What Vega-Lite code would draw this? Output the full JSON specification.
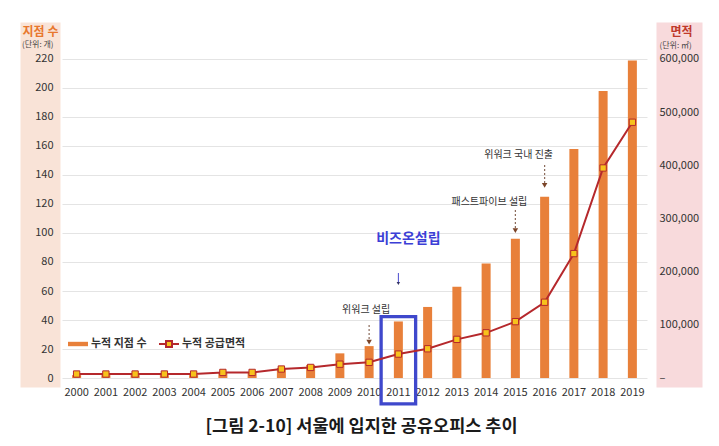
{
  "$schema": "https://vega.github.io/schema/vega-lite/v6.json",
  "width": 585,
  "height": 365,
  "autosize": "none",
  "padding": {"left": 62, "top": 22, "right": 72, "bottom": 59},
  "background": "white",
  "title": {
    "text": "[그림 2-10] 서울에 입지한 공유오피스 추이",
    "orient": "bottom", "anchor": "middle",
    "fontSize": 17.5, "fontWeight": "bold", "color": "#1a1a1a",
    "offset": 12, "dx": 7
  },
  "datasets": {
    "yearly": [
      {"year": "2000", "stores": 2, "area": 7500},
      {"year": "2001", "stores": 2, "area": 7500},
      {"year": "2002", "stores": 2, "area": 7500},
      {"year": "2003", "stores": 2, "area": 7500},
      {"year": "2004", "stores": 2, "area": 7500},
      {"year": "2005", "stores": 4, "area": 10500},
      {"year": "2006", "stores": 4, "area": 10500},
      {"year": "2007", "stores": 7, "area": 16900},
      {"year": "2008", "stores": 9, "area": 19900},
      {"year": "2009", "stores": 17, "area": 26000},
      {"year": "2010", "stores": 22, "area": 29500},
      {"year": "2011", "stores": 39, "area": 45000},
      {"year": "2012", "stores": 49, "area": 55000},
      {"year": "2013", "stores": 63, "area": 72700},
      {"year": "2014", "stores": 79, "area": 85000},
      {"year": "2015", "stores": 96, "area": 106000},
      {"year": "2016", "stores": 125, "area": 142500},
      {"year": "2017", "stores": 158, "area": 234000},
      {"year": "2018", "stores": 198, "area": 395000},
      {"year": "2019", "stores": 219, "area": 481000}
    ],
    "notes": [
      {"year": "2010", "label": "위워크 설립", "kind": "founded", "ty": 46.9, "top": 36.6, "bottom": 26.2, "tip": 24.8},
      {"year": "2011", "label": "비즈온설립", "kind": "bizon", "ty": 95.9, "top": 72.4, "bottom": 65.5, "tip": 65.2},
      {"year": "2015", "label": "패스트파이브 설립", "kind": "entry", "ty": 121.6, "top": 115.9, "bottom": 103.4, "tip": 101.7},
      {"year": "2016", "label": "위워크 국내 진출", "kind": "entry", "ty": 153.8, "top": 146.9, "bottom": 134.5, "tip": 132.8}
    ],
    "highlight": [
      {"year": "2011", "top": 42.3, "bottom": -17.9}
    ]
  },
  "encoding": {
    "x": {
      "field": "year", "type": "ordinal",
      "scale": {"paddingInner": 0, "paddingOuter": 0},
      "axis": {
        "title": null, "labelAngle": 0, "domain": false, "ticks": false, "tickSize": 0,
        "grid": false, "labelPadding": -1, "labelFontSize": 11, "labelColor": "#333"
      }
    }
  },
  "layer": [
    {
      "layer": [
        {
          "data": {"name": "yearly"},
          "mark": {"type": "bar", "size": 9},
          "encoding": {
            "y": {
              "field": "stores", "type": "quantitative",
              "scale": {"domain": [-6.2, 245.5], "nice": false, "zero": false},
              "axis": {
                "orient": "left",
                "title": "지점 수",
                "titleAngle": 0, "titleAlign": "center", "titleBaseline": "middle",
                "titleX": 0, "titleY": 9,
                "titleColor": "#E8772E", "titleFontSize": 12, "titleFontWeight": "bold",
                "labels": false, "ticks": false, "tickSize": 0, "grid": false,
                "offset": 22, "domainWidth": 40, "domainColor": "#F9E3D7", "domainCap": "butt"
              }
            },
            "color": {
              "datum": "누적 지점 수",
              "scale": {"range": ["#E8803A"]},
              "legend": {
                "title": null, "orient": "none", "legendX": 5, "legendY": 311,
                "symbolType": "M-1,-0.22H1V0.22H-1Z", "symbolSize": 400,
                "labelFontSize": 11, "labelFontWeight": "bold", "labelColor": "#333",
                "labelOffset": 2, "padding": 0
              }
            }
          }
        },
        {
          "data": {"name": "highlight"},
          "mark": {"type": "bar", "width": {"band": 1.18}, "fill": "transparent", "stroke": "#3F48CC", "strokeWidth": 3.3},
          "encoding": {
            "y": {
              "field": "top", "type": "quantitative",
              "scale": {"domain": [-6.2, 245.5], "nice": false, "zero": false},
              "axis": {
                "orient": "left", "title": null,
                "values": [0, 20, 40, 60, 80, 100, 120, 140, 160, 180, 200, 220, 229.8],
                "labelExpr": "datum.value > 225 ? '(단위: 개)' : format(datum.value, 'd')",
                "labelFontSize": {"condition": {"test": "datum.value > 225", "value": 8}, "value": 11},
                "labelColor": {"condition": {"test": "datum.value > 225", "value": "#444"}, "value": "#333"},
                "gridOpacity": {"condition": {"test": "datum.value > 225", "value": 0}, "value": 1},
                "gridColor": "#E4E4E4", "grid": true,
                "labelOverlap": false, "labelFlush": false,
                "labelPadding": 9, "ticks": false, "tickSize": 0, "domain": false
              }
            },
            "y2": {"field": "bottom"}
          }
        },
        {
          "data": {"name": "notes"},
          "transform": [{"filter": "datum.kind != 'bizon'"}],
          "mark": {"type": "rule", "color": "#8A6A5A", "strokeDash": [2, 2], "strokeWidth": 1.2},
          "encoding": {
            "y": {"field": "top", "type": "quantitative", "axis": null},
            "y2": {"field": "bottom"}
          }
        },
        {
          "data": {"name": "notes"},
          "transform": [{"filter": "datum.kind != 'bizon'"}],
          "mark": {"type": "point", "shape": "triangle-down", "filled": true, "size": 30, "color": "#7B4428", "opacity": 1},
          "encoding": {
            "y": {"field": "tip", "type": "quantitative", "axis": null}
          }
        },
        {
          "data": {"name": "notes"},
          "transform": [{"filter": "datum.kind == 'bizon'"}],
          "mark": {"type": "rule", "color": "#4A4ACF", "strokeWidth": 1},
          "encoding": {
            "y": {"field": "top", "type": "quantitative", "axis": null},
            "y2": {"field": "bottom"}
          }
        },
        {
          "data": {"name": "notes"},
          "transform": [{"filter": "datum.kind == 'bizon'"}],
          "mark": {"type": "point", "shape": "triangle-down", "filled": true, "size": 12, "color": "#333366", "opacity": 1},
          "encoding": {
            "y": {"field": "tip", "type": "quantitative", "axis": null}
          }
        },
        {
          "data": {"name": "notes"},
          "transform": [{"filter": "datum.kind == 'founded'"}],
          "mark": {"type": "text", "fontSize": 10, "color": "#333", "dx": -3, "baseline": "middle"},
          "encoding": {
            "y": {"field": "ty", "type": "quantitative", "axis": null},
            "text": {"field": "label"}
          }
        },
        {
          "data": {"name": "notes"},
          "transform": [{"filter": "datum.kind == 'entry'"}],
          "mark": {"type": "text", "fontSize": 10, "color": "#333", "dx": -26, "baseline": "middle"},
          "encoding": {
            "y": {"field": "ty", "type": "quantitative", "axis": null},
            "text": {"field": "label"}
          }
        },
        {
          "data": {"name": "notes"},
          "transform": [{"filter": "datum.kind == 'bizon'"}],
          "mark": {"type": "text", "fontSize": 14, "fontWeight": "bold", "color": "#3C3FD6", "dx": 10, "baseline": "middle"},
          "encoding": {
            "y": {"field": "ty", "type": "quantitative", "axis": null},
            "text": {"field": "label"}
          }
        }
      ],
      "resolve": {"axis": {"y": "independent"}}
    },
    {
      "layer": [
        {
          "data": {"name": "yearly"},
          "mark": {"type": "line", "strokeWidth": 2},
          "encoding": {
            "y": {
              "field": "area", "type": "quantitative",
              "scale": {"domain": [-16909, 669545], "nice": false, "zero": false},
              "axis": {
                "orient": "right",
                "title": "면적",
                "titleAngle": 0, "titleAlign": "center", "titleBaseline": "middle",
                "titleX": 2, "titleY": 9,
                "titleColor": "#C0392B", "titleFontSize": 12, "titleFontWeight": "bold",
                "labels": false, "grid": false, "ticks": false, "tickSize": 0,
                "offset": 32, "domainWidth": 46, "domainColor": "#F8DADC", "domainCap": "butt"
              }
            },
            "stroke": {
              "datum": "누적 공급면적",
              "scale": {"range": ["#B5282C"]},
              "legend": {
                "title": null, "orient": "none", "legendX": 96, "legendY": 311,
                "symbolType": "M-1,0H-0.3M0.3,0H1M-0.3,-0.3H0.3V0.3H-0.3Z", "symbolSize": 400,
                "symbolStrokeWidth": 2, "symbolFillColor": "#F7C21C",
                "labelFontSize": 11, "labelFontWeight": "bold", "labelColor": "#333",
                "labelOffset": 2, "padding": 0,
                "encode": {"symbols": {"update": {"fill": {"value": "#F7C21C"}}}}
              }
            }
          }
        },
        {
          "data": {"name": "yearly"},
          "mark": {"type": "point", "shape": "square", "filled": true, "size": 40, "fill": "#F7C21C", "stroke": "#B5282C", "strokeWidth": 1, "opacity": 1},
          "encoding": {
            "y": {
              "field": "area", "type": "quantitative",
              "axis": {
                "orient": "right", "title": null,
                "values": [0, 100000, 200000, 300000, 400000, 500000, 600000, 626000],
                "labelExpr": "datum.value == 0 ? '–' : datum.value > 610000 ? '(단위: ㎡)' : format(datum.value, ',')",
                "labelFontSize": {"condition": {"test": "datum.value > 610000", "value": 8}, "value": 11},
                "labelColor": {"condition": {"test": "datum.value > 610000", "value": "#444"}, "value": "#333"},
                "labelOverlap": false, "labelFlush": false,
                "grid": false, "ticks": false, "tickSize": 0, "domain": false, "labelPadding": 12
              }
            }
          }
        }
      ],
      "resolve": {"axis": {"y": "independent"}}
    }
  ],
  "resolve": {"scale": {"y": "independent"}},
  "config": {
    "font": "Noto Sans CJK KR",
    "view": {"stroke": null}
  }
}
